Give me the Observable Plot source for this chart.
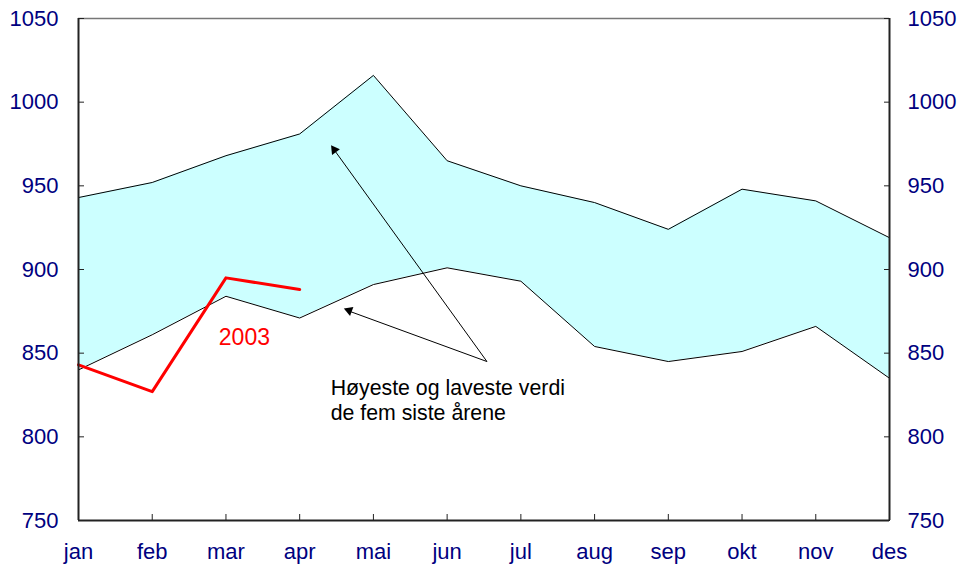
<!DOCTYPE html>
<html>
<head>
<meta charset="utf-8">
<script src="https://cdn.jsdelivr.net/npm/d3@7"></script>
<script src="https://cdn.jsdelivr.net/npm/@observablehq/plot@0.6"></script>
<style>
  html, body { margin: 0; padding: 0; background: #fff; }
  #chart svg { display: block; }
</style>
</head>
<body>
<div id="chart"></div>
<script>
const months = ["jan","feb","mar","apr","mai","jun","jul","aug","sep","okt","nov","des"];
const highest = [943, 952, 968, 981, 1016, 965, 950, 940, 924, 948, 941, 919];
const lowest  = [840, 861, 884, 871, 891, 901, 893, 854, 845, 851, 866, 835];
const y2003   = [843, 827, 895, 888];
const yTicks  = [750, 800, 850, 900, 950, 1000, 1050];
const annotationText = "Høyeste og laveste verdi\nde fem siste årene";
const seriesLabel = "2003";

const band = months.map((m, i) => ({i, month: m, high: highest[i], low: lowest[i]}));
const cur = y2003.map((v, i) => ({i, v}));

const arrows = [
  {x1: 5.54, y1: 845, x2: 3.46, y2: 972, hx: 3.47, hy: 971.5, rot: -36},
  {x1: 5.54, y1: 845, x2: 3.66, y2: 875.3, hx: 3.67, hy: 875.5, rot: -70}
];

const navy = "#000080";
const font = "Liberation Sans, Arial, sans-serif";

const chart = Plot.plot({
  width: 962,
  height: 565,
  marginLeft: 78,
  marginRight: 73,
  marginTop: 18,
  marginBottom: 45,
  style: {fontFamily: font, background: "#fff", overflow: "visible"},
  x: {domain: [0, 11], ticks: d3.range(12)},
  y: {domain: [750, 1050], ticks: yTicks},
  marks: [
    Plot.areaY(band, {x: "i", y1: "low", y2: "high", fill: "#ccffff"}),
    Plot.lineY(band, {x: "i", y: "high", stroke: "#000", strokeWidth: 1}),
    Plot.lineY(band, {x: "i", y: "low", stroke: "#000", strokeWidth: 1}),
    Plot.lineY(cur, {x: "i", y: "v", stroke: "#ff0000", strokeWidth: 3}),
    Plot.text([seriesLabel], {x: 2.25, y: 859, text: d => d, fill: "#ff0000", fontSize: 23, textAnchor: "middle"}),
    Plot.link(arrows, {x1: "x1", y1: "y1", x2: "x2", y2: "y2", stroke: "#000", strokeWidth: 1}),
    Plot.dot(arrows, {x: "hx", y: "hy", symbol: "triangle", r: 3.6, fill: "#000", stroke: "none", rotate: "rot"}),
    Plot.text([annotationText], {x: 3.42, y: 822.5, text: d => d, fill: "#000", fontSize: 21.3, textAnchor: "start", lineAnchor: "middle", lineHeight: 1.17}),
    Plot.ruleY([1050], {stroke: "#777", strokeWidth: 1.5}),
    Plot.ruleY([750], {stroke: "#222", strokeWidth: 2}),
    Plot.ruleX([0, 11], {stroke: "#222", strokeWidth: 2}),
    Plot.axisY({anchor: "left", ticks: yTicks, tickSize: -6, tickPadding: 26, fontSize: 22, color: navy, stroke: "#222", tickFormat: d => String(d)}),
    Plot.axisY({anchor: "right", ticks: yTicks, tickSize: -6, tickPadding: 24, fontSize: 22, color: navy, stroke: "#222", tickFormat: d => String(d)}),
    Plot.axisX({anchor: "bottom", ticks: d3.range(12), tickSize: -6, tickPadding: 29, fontSize: 22, color: navy, stroke: "#222", tickFormat: i => months[i]})
  ]
});
document.getElementById("chart").appendChild(chart);
</script>
</body>
</html>
